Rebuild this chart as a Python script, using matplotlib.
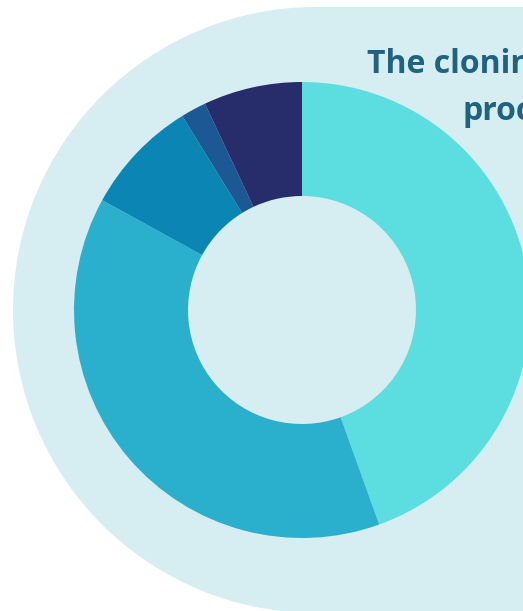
import matplotlib

matplotlib.use("Agg")
import matplotlib.pyplot as plt
from matplotlib.patches import Circle, Rectangle

# Share of each segment, clockwise from 12 o'clock (percent).
SHARES = [44.5, 38.5, 8.2, 1.8, 7.0]
COLORS = ["#5cdee0", "#2ab0cc", "#0b86b4", "#1c5893", "#262d6a"]

TITLE = "The cloning market by\nprocedure"

W, H = 523, 611
BG = "#d6edf1"


def main() -> None:
    fig = plt.figure(figsize=(W / 100, H / 100), dpi=100)
    fig.patch.set_facecolor("white")
    ax = fig.add_axes([0, 0, 1, 1])

    # pill-shaped panel behind the donut: half disc on the left + a block
    r = 303
    cx, cy = 13 + r, H - 310
    ax.add_patch(Circle((cx, cy), r, facecolor=BG, edgecolor="none", zorder=0))
    ax.add_patch(Rectangle((cx, cy - r), 600, 2 * r,
                           facecolor=BG, edgecolor="none", zorder=0))

    ax.pie(
        SHARES,
        colors=COLORS,
        center=(302, H - 310),
        radius=228,
        startangle=90,
        counterclock=False,
        wedgeprops=dict(width=114, linewidth=0, edgecolor="none"),
        frame=True,
    )

    ax.text(
        367, H - 120, TITLE,
        ha="left", va="baseline", multialignment="center",
        fontsize=23, fontweight="bold", family=["Open Sans", "DejaVu Sans"],
        color="#1e6380", linespacing=1.55, zorder=5,
    )

    ax.set_xlim(0, W)
    ax.set_ylim(0, H)
    ax.set_aspect("equal")
    ax.set_axis_off()

    fig.savefig("out.png", dpi=100)


if __name__ == "__main__":
    main()
